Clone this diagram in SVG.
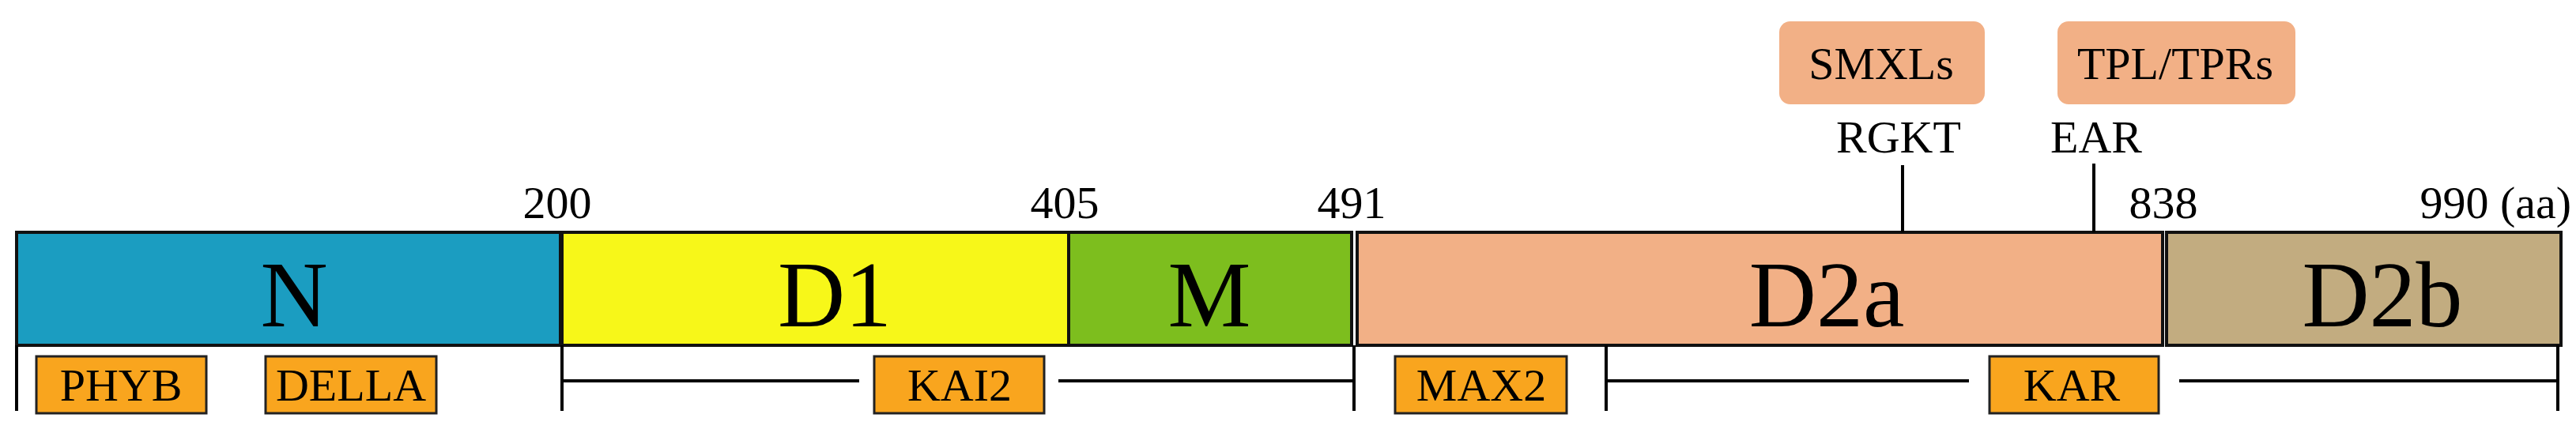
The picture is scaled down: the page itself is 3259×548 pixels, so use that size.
<svg xmlns="http://www.w3.org/2000/svg" width="3259" height="548" viewBox="0 0 3259 548">
<style>
text{font-family:"Liberation Serif","Times New Roman",serif;fill:#000;text-anchor:middle}
.dom{stroke:#111;stroke-width:4}
.big{font-size:118px}
.sm{font-size:58px}
.lab{fill:#F9A51E;stroke:#222;stroke-width:3}
.part{fill:#F2B086}
.ln{stroke:#000;stroke-width:4;fill:none}
</style>
<rect width="3259" height="548" fill="#fff"/>
<g id="domains">
<g id="N"><rect class="dom" x="21" y="294" width="688" height="143" fill="#1B9DC1"/><text class="big" x="372" y="413">N</text></g>
<g id="D1"><rect class="dom" x="711" y="294" width="641" height="143" fill="#F7F719"/><text class="big" x="1056" y="413">D1</text></g>
<g id="M"><rect class="dom" x="1352" y="294" width="358" height="143" fill="#7DBE1E"/><text class="big" x="1530" y="413">M</text></g>
<g id="D2a"><rect class="dom" x="1717" y="294" width="1019" height="143" fill="#F2B086"/><text class="big" x="2311" y="413">D2a</text></g>
<g id="D2b"><rect class="dom" x="2741" y="294" width="499" height="143" fill="#C2AC80"/><text class="big" x="3014" y="413">D2b</text></g>
</g>
<g id="numbers">
<text class="sm" x="705" y="276">200</text>
<text class="sm" x="1347" y="276">405</text>
<text class="sm" x="1710" y="276">491</text>
<text class="sm" x="2737" y="276">838</text>
<text class="sm" x="3253" y="276" style="text-anchor:end">990 (aa)</text>
</g>
<g id="partners">
<g id="SMXLs"><rect class="part" x="2251" y="27" width="260" height="105" rx="14"/><text class="sm" x="2380" y="100">SMXLs</text></g>
<g id="TPL"><rect class="part" x="2603" y="27" width="301" height="105" rx="14"/><text class="sm" x="2752" y="100">TPL/TPRs</text></g>
<g id="RGKT"><text class="sm" x="2402" y="193">RGKT</text></g>
<g id="EAR"><text class="sm" x="2652" y="193">EAR</text></g>
</g>
<g id="labels">
<g id="PHYB"><rect class="lab" x="46" y="451" width="215" height="72"/><text class="sm" x="153" y="507">PHYB</text></g>
<g id="DELLA"><rect class="lab" x="336" y="451" width="216" height="72"/><text class="sm" x="444" y="507">DELLA</text></g>
<g id="KAI2"><rect class="lab" x="1106" y="451" width="215" height="72"/><text class="sm" x="1214" y="507">KAI2</text></g>
<g id="MAX2"><rect class="lab" x="1765" y="451" width="217" height="72"/><text class="sm" x="1874" y="507">MAX2</text></g>
<g id="KAR"><rect class="lab" x="2517" y="451" width="214" height="72"/><text class="sm" x="2621" y="507">KAR</text></g>
</g>
<g id="connectors">
<line class="ln" x1="2407" y1="209" x2="2407" y2="294"/>
<line class="ln" x1="2649" y1="207" x2="2649" y2="294"/>
<line class="ln" x1="21" y1="437" x2="21" y2="520"/>
<line class="ln" x1="711" y1="437" x2="711" y2="520"/>
<line class="ln" x1="1713" y1="437" x2="1713" y2="520"/>
<line class="ln" x1="711" y1="482" x2="1087" y2="482"/>
<line class="ln" x1="1339" y1="482" x2="1713" y2="482"/>
<line class="ln" x1="2032" y1="437" x2="2032" y2="520"/>
<line class="ln" x1="3236" y1="437" x2="3236" y2="520"/>
<line class="ln" x1="2032" y1="482" x2="2491" y2="482"/>
<line class="ln" x1="2757" y1="482" x2="3236" y2="482"/>
</g>
</svg>
